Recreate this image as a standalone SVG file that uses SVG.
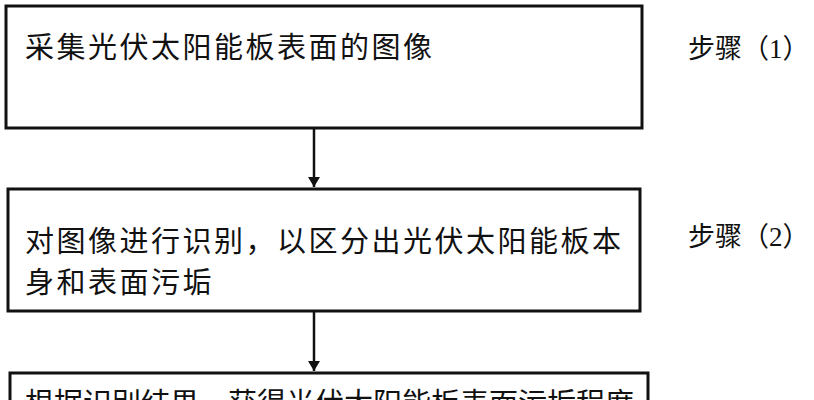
<svg xmlns="http://www.w3.org/2000/svg" width="814" height="400" viewBox="0 0 814 400">
<style>
.b{fill:#fff;stroke:#111;stroke-width:3}
.t{font-family:"Liberation Serif","Noto Sans CJK SC",serif;font-size:29px;letter-spacing:2.5px;fill:#111}
.s{font-family:"Liberation Serif","Noto Sans CJK SC",serif;font-size:27px;fill:#111}
.c{stroke:#111;stroke-width:2.5;fill:none}
</style>
<defs><marker id="a" markerWidth="10" markerHeight="12" refX="10" refY="6" orient="auto" markerUnits="userSpaceOnUse" viewBox="0 0 10 12"><path d="M0,0L10,6L0,12z" fill="#111"/></marker></defs>
<rect width="814" height="400" fill="#fff"/>
<g id="n1"><rect class="b" x="6" y="6" width="636" height="122"/><text class="t" x="25" y="58">采集光伏太阳能板表面的图像</text></g>
<g id="n2"><rect class="b" x="8" y="189" width="632" height="122"/><text class="t" x="25" y="252">对图像进行识别，以区分出光伏太阳能板本</text><text class="t" x="25" y="293">身和表面污垢</text></g>
<g id="n3"><rect class="b" x="10" y="373" width="638" height="60"/><text class="t" x="25" y="414" style="letter-spacing:0">根据识别结果，获得光伏太阳能板表面污垢程度</text></g>
<g id="s1"><text class="s" x="688" y="58">步骤（1）</text></g>
<g id="s2"><text class="s" x="688" y="246">步骤（2）</text></g>
<g id="conn"><line class="c" x1="314" y1="128" x2="314" y2="187" marker-end="url(#a)"/><line class="c" x1="314" y1="311" x2="314" y2="371" marker-end="url(#a)"/></g>
</svg>
